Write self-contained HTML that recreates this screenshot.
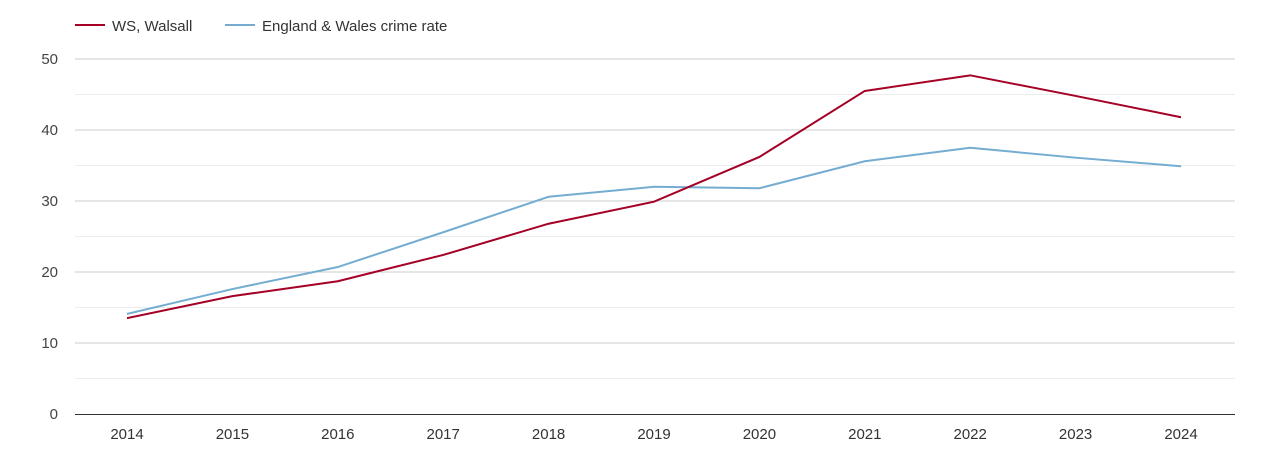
<!DOCTYPE html>
<html><head><meta charset="utf-8"><style>
body{margin:0;background:#fff;font-family:"Liberation Sans",sans-serif;}
svg text{font-family:"Liberation Sans",sans-serif;}
</style></head><body>
<svg id="chart" width="1270" height="450" xmlns="http://www.w3.org/2000/svg">
<g>
<line x1="75" y1="25" x2="105" y2="25" stroke="#a50026" stroke-width="2"/>
<text x="112" y="31" font-size="15" fill="#333">WS, Walsall</text>
<line x1="225" y1="25" x2="255" y2="25" stroke="#74add1" stroke-width="2"/>
<text x="262" y="31" font-size="15" fill="#333">England &amp; Wales crime rate</text>
</g>
<g id="grid"></g><g id="axes"></g><g id="series"></g>
</svg>
<script>
const years=["2014","2015","2016","2017","2018","2019","2020","2021","2022","2023","2024"];
const walsall=[13.5,16.6,18.7,22.4,26.8,29.9,36.2,45.5,47.7,44.8,41.8];
const englandWales=[14.1,17.6,20.7,25.6,30.6,32.0,31.8,35.6,37.5,36.1,34.9];
const yTicks=[0,10,20,30,40,50];
const NS="http://www.w3.org/2000/svg";
const x0=75,x1=1235,y0=414,yTop=59;
const xs=i=>127+i*(1181-127)/(years.length-1);
const ys=v=>y0-v*(y0-yTop)/50;
function mk(t,a,p){const e=document.createElementNS(NS,t);for(const k in a)e.setAttribute(k,a[k]);p.appendChild(e);return e;}
const grid=document.getElementById('grid'),axes=document.getElementById('axes'),ser=document.getElementById('series');
for(let v=5;v<=50;v+=5){const l=mk('line',{x1:x0,x2:x1,y1:ys(v),y2:ys(v),stroke:v%10?'#ececec':'#cccccc','stroke-width':1},grid);

}
yTicks.forEach(v=>{const t=mk('text',{x:58,y:ys(v)+5,'text-anchor':'end','font-size':15,fill:'#444'},axes);t.textContent=v;

});
const ax=mk('line',{x1:x0,x2:x1,y1:y0+0.5,y2:y0+0.5,stroke:'#333','stroke-width':1},axes);


years.forEach((y,i)=>{const t=mk('text',{x:xs(i),y:439,'text-anchor':'middle','font-size':15,fill:'#333'},axes);t.textContent=y;

});
function line(d,c,n){const p=mk('polyline',{points:d.map((v,i)=>xs(i)+','+ys(v)).join(' '),fill:'none',stroke:c,'stroke-width':2},ser);

}
line(englandWales,'#74add1','england-wales-line');
line(walsall,'#a50026','walsall-line');
</script>
</body></html>
